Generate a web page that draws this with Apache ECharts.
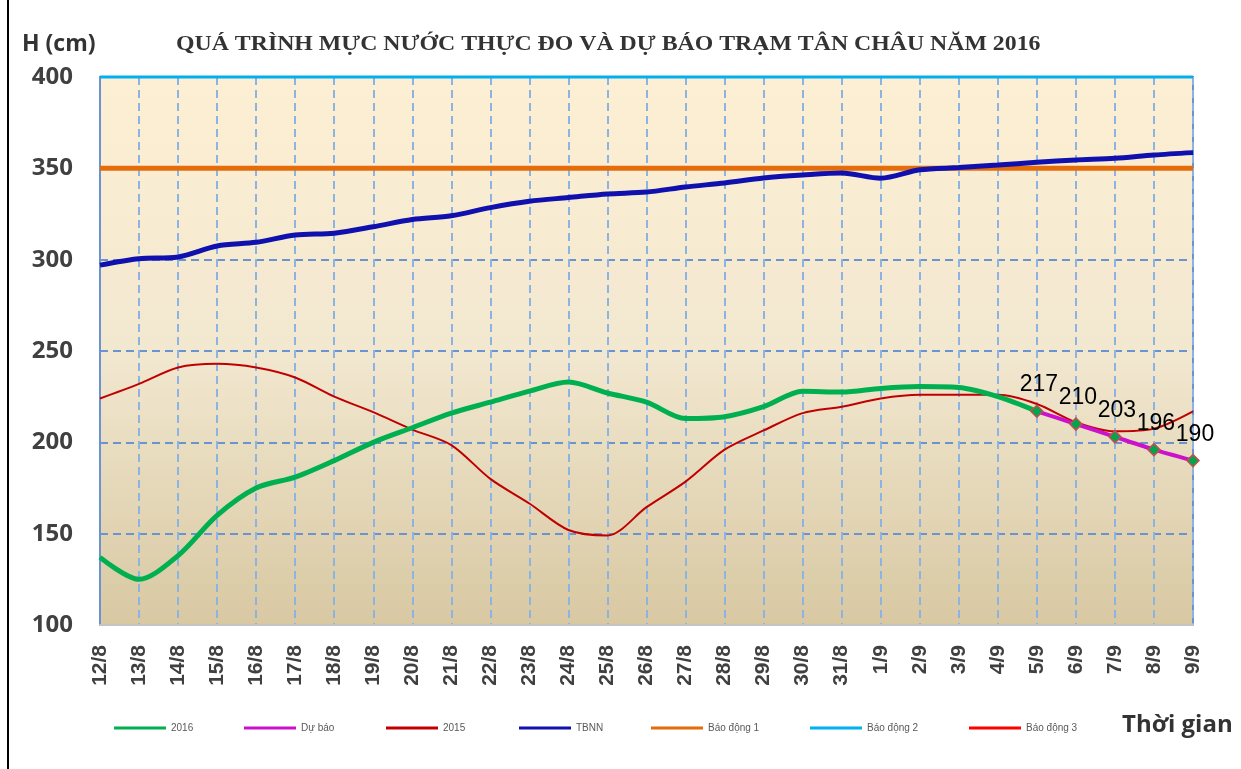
<!DOCTYPE html>
<html>
<head>
<meta charset="utf-8">
<title>Mực nước trạm Tân Châu 2016</title>
<script src="https://cdn.jsdelivr.net/npm/echarts@6/dist/echarts.min.js"></script>
<style>
  html, body { margin: 0; padding: 0; background: #fff; }
  #chart { width: 1241px; height: 769px; }
</style>
</head>
<body>
<div id="chart"></div>
<script>
// ngày trên trục hoành
const days = ['12/8', '13/8', '14/8', '15/8', '16/8', '17/8', '18/8', '19/8', '20/8', '21/8',
  '22/8', '23/8', '24/8', '25/8', '26/8', '27/8', '28/8', '29/8', '30/8', '31/8',
  '1/9', '2/9', '3/9', '4/9', '5/9', '6/9', '7/9', '8/9', '9/9'];

// thực đo 2016 (đến 5/9)
const h2016 = [137, 125, 138, 160, 175, 181, 190, 200, 208, 216,
  222, 228, 233, 227, 222, 213, 214, 219.5, 228, 227.5,
  229.5, 230.5, 230, 225, 217, null, null, null, null];

// dự báo
const duBao = [null, null, null, null, null, null, null, null, null, null,
  null, null, null, null, null, null, null, null, null, null,
  null, null, null, null, 217, 210, 203, 196, 190];

// năm 2015
const h2015 = [224, 232, 241, 243, 241, 235.5, 225, 216.5, 207, 198.5,
  180, 166.5, 152, 149, 164.5, 178.5, 196, 206.5, 216, 219.5,
  224, 226, 226, 226, 221, 211, 206, 207.5, 217];

// trung bình nhiều năm
const tbnn = [297, 300.5, 301.5, 307.5, 309.5, 313.5, 314.5, 318, 322, 324,
  328.5, 332, 334, 336, 337, 339.8, 342, 344.7, 346.3, 347.4,
  344.6, 349.2, 350.4, 351.8, 353.3, 354.6, 355.5, 357.3, 358.6];

// mức báo động
const bd1 = 350, bd2 = 400, bd3 = 450;

const chart = echarts.init(document.getElementById('chart'));

const flat = v => days.map(() => v);

// mỗi mục chú thích đặt riêng một chỗ như bản gốc
const legendPos = [
  ['2016', 114], ['Dự báo', 244], ['2015', 386], ['TBNN', 519],
  ['Báo động 1', 651], ['Báo động 2', 810], ['Báo động 3', 969]
];

const option = {
  animation: false,
  legend: legendPos.map(([name, x]) => ({
    data: name === 'Dự báo'
      ? [{name, itemStyle: {color: '#CC11CC', borderWidth: 0}}]
      : [name],
    left: x, top: 723, padding: 0,
    icon: 'rect',
    itemWidth: 52, itemHeight: 3,
    textStyle: {fontFamily: 'Liberation Sans', fontSize: 10, color: '#595959'}
  })),
  grid: {
    left: 100, right: 48, top: 77, bottom: 144,
    show: true,
    borderColor: '#6A93CF', borderWidth: 2,
    backgroundColor: new echarts.graphic.LinearGradient(0, 0, 0, 1, [
      {offset: 0, color: '#FDEFD3'},
      {offset: 0.5, color: '#F2E8D0'},
      {offset: 1, color: '#D8C8A2'}
    ])
  },
  graphic: [
    // tiêu đề: chữ Times kéo giãn ngang như bản gốc
    {type: 'text', x: 176, y: 35, scaleX: 1.19,
      style: {text: 'QUÁ TRÌNH MỰC NƯỚC THỰC ĐO VÀ DỰ BÁO TRẠM TÂN CHÂU NĂM 2016',
        font: 'bold 20px "Liberation Serif"', fill: '#333'}},
    {type: 'text', left: 22, top: 33,
      style: {text: 'H (cm)', font: 'bold 23px "Open Sans"', fill: '#333'}},
    {type: 'text', left: 1122, top: 713,
      style: {text: 'Thời gian', font: 'bold 24px "Open Sans"', fill: '#333'}},
    {type: 'rect', left: 7, top: 0, shape: {width: 2, height: 769}, style: {fill: '#000'}}
  ],
  xAxis: {
    type: 'category',
    data: days,
    boundaryGap: false,
    axisLine: {lineStyle: {color: '#C4C4C4', width: 2}},
    axisTick: {show: false},
    axisLabel: {
      interval: 0, rotate: 90, margin: 20,
      fontFamily: 'Liberation Sans', fontWeight: 'bold', fontSize: 21, color: '#404040'
    },
    splitLine: {show: true, lineStyle: {color: '#8DB3E2', width: 2, type: [8, 5]}}
  },
  yAxis: {
    type: 'value',
    min: 100, max: 400, interval: 50,
    axisLine: {show: true, lineStyle: {color: '#6A93CF', width: 2}},
    axisTick: {show: false},
    axisLabel: {
      margin: 27,
      fontFamily: 'Open Sans', fontWeight: 'bold', fontSize: 24, color: '#404040'
    },
    splitLine: {lineStyle: {color: '#6A93CF', width: 2, type: [8, 5]}}
  },
  series: [
    {name: 'Báo động 3', type: 'line', data: flat(bd3), symbol: 'none',
      lineStyle: {color: '#FF0000', width: 3}, itemStyle: {color: '#FF0000'}},
    {name: 'Báo động 2', type: 'line', data: flat(bd2), symbol: 'none', clip: false,
      lineStyle: {color: '#00B0F0', width: 3}, itemStyle: {color: '#00B0F0'}},
    {name: 'Báo động 1', type: 'line', data: flat(bd1), symbol: 'none',
      lineStyle: {color: '#E46C0A', width: 5}, itemStyle: {color: '#E46C0A'}},
    {name: 'TBNN', type: 'line', data: tbnn, symbol: 'none', smooth: 0.3,
      lineStyle: {color: '#1010AE', width: 5}, itemStyle: {color: '#1010AE'}},
    {name: '2015', type: 'line', data: h2015, symbol: 'none', smooth: 0.3,
      lineStyle: {color: '#C00000', width: 2}, itemStyle: {color: '#C00000'}},
    {name: '2016', type: 'line', data: h2016, symbol: 'none', smooth: 0.3,
      lineStyle: {color: '#00B050', width: 5}, itemStyle: {color: '#00B050'}},
    {name: 'Dự báo', type: 'line', data: duBao, smooth: 0.2,
      symbol: 'diamond', symbolSize: 12, showSymbol: true,
      lineStyle: {color: '#CC11CC', width: 4},
      itemStyle: {color: '#00A550', borderColor: '#C0504D', borderWidth: 1.5},
      label: {
        show: true, position: 'top', distance: 8, offset: [2, 0],
        fontFamily: 'Liberation Sans', fontSize: 23, color: '#000'
      }}
  ]
};

chart.setOption(option);
</script>
</body>
</html>
